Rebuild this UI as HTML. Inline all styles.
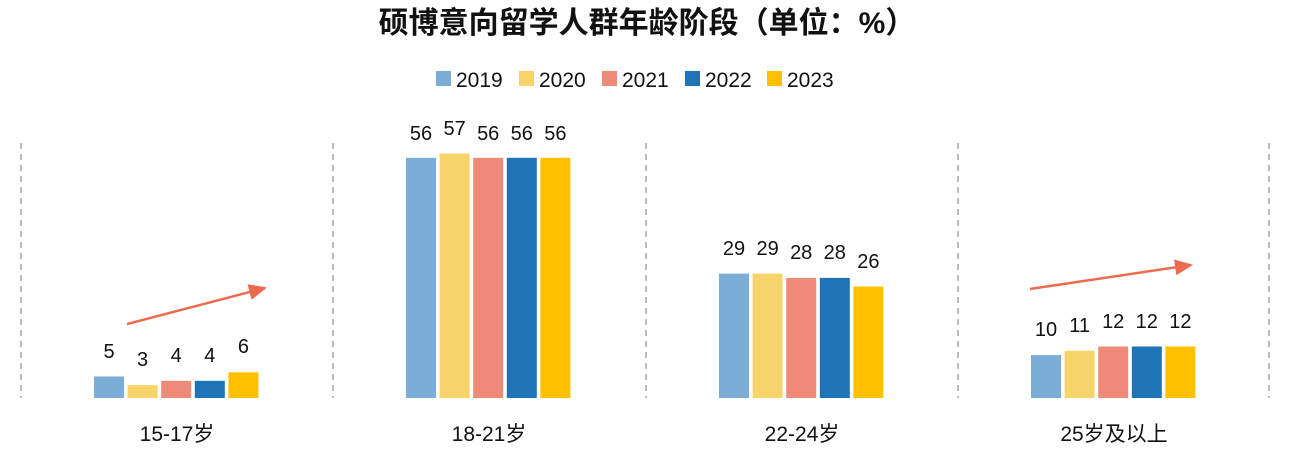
<!DOCTYPE html>
<html><head><meta charset="utf-8"><style>
body{margin:0;background:#fff;width:1291px;height:451px;overflow:hidden}
text{font-family:"Liberation Sans","Noto Sans CJK SC",sans-serif}
</style></head><body>
<svg width="1291" height="451" xmlns="http://www.w3.org/2000/svg">
<defs><marker id="ah" markerWidth="18" markerHeight="16" refX="16" refY="8" orient="auto" markerUnits="userSpaceOnUse" viewBox="0 0 18 16"><path d="M0,0 L18,8 L0,16 z" fill="#ee6a4f"/></marker></defs>
<text x="647" y="33" text-anchor="middle" font-size="30" font-weight="bold" fill="#111">硕博意向留学人群年龄阶段（单位：%）</text>
<g font-size="21" fill="#111">
<rect x="436" y="71" width="15" height="15" fill="#7aaed6"/><text x="456" y="87">2019</text>
<rect x="519" y="71" width="15" height="15" fill="#f7d46a"/><text x="539" y="87">2020</text>
<rect x="602" y="71" width="15" height="15" fill="#ef8a78"/><text x="622" y="87">2021</text>
<rect x="685" y="71" width="15" height="15" fill="#1f74b8"/><text x="705" y="87">2022</text>
<rect x="767" y="71" width="15" height="15" fill="#ffc000"/><text x="787" y="87">2023</text>
</g>
<g stroke="#bbb" stroke-width="2" stroke-dasharray="6,5">
<line x1="21" y1="143" x2="21" y2="398"/><line x1="333" y1="143" x2="333" y2="398"/><line x1="646" y1="143" x2="646" y2="398"/><line x1="958" y1="143" x2="958" y2="398"/><line x1="1269" y1="143" x2="1269" y2="398"/>
</g>
<g>
<rect x="94" y="376.5" width="30" height="21.5" fill="#7aaed6"/>
<rect x="127.6" y="385.1" width="30" height="12.9" fill="#f7d46a"/>
<rect x="161.2" y="380.8" width="30" height="17.2" fill="#ef8a78"/>
<rect x="194.8" y="380.8" width="30" height="17.2" fill="#1f74b8"/>
<rect x="228.4" y="372.3" width="30" height="25.7" fill="#ffc000"/>
<rect x="406" y="157.8" width="30" height="240.2" fill="#7aaed6"/>
<rect x="439.6" y="153.5" width="30" height="244.5" fill="#f7d46a"/>
<rect x="473.2" y="157.8" width="30" height="240.2" fill="#ef8a78"/>
<rect x="506.8" y="157.8" width="30" height="240.2" fill="#1f74b8"/>
<rect x="540.4" y="157.8" width="30" height="240.2" fill="#ffc000"/>
<rect x="719" y="273.6" width="30" height="124.4" fill="#7aaed6"/>
<rect x="752.6" y="273.6" width="30" height="124.4" fill="#f7d46a"/>
<rect x="786.2" y="277.9" width="30" height="120.1" fill="#ef8a78"/>
<rect x="819.8" y="277.9" width="30" height="120.1" fill="#1f74b8"/>
<rect x="853.4" y="286.5" width="30" height="111.5" fill="#ffc000"/>
<rect x="1031" y="355.1" width="30" height="42.9" fill="#7aaed6"/>
<rect x="1064.6" y="350.8" width="30" height="47.2" fill="#f7d46a"/>
<rect x="1098.2" y="346.5" width="30" height="51.5" fill="#ef8a78"/>
<rect x="1131.8" y="346.5" width="30" height="51.5" fill="#1f74b8"/>
<rect x="1165.4" y="346.5" width="30" height="51.5" fill="#ffc000"/>
</g>
<g font-size="20" fill="#111" text-anchor="middle">
<text x="109" y="358">5</text><text x="142.6" y="366">3</text><text x="176.2" y="362">4</text><text x="209.8" y="362">4</text><text x="243.4" y="353">6</text>
<text x="421" y="140">56</text><text x="454.6" y="135">57</text><text x="488.2" y="140">56</text><text x="521.8" y="140">56</text><text x="555.4" y="140">56</text>
<text x="734" y="255">29</text><text x="767.6" y="255">29</text><text x="801.2" y="259">28</text><text x="834.8" y="259">28</text><text x="868.4" y="268">26</text>
<text x="1046" y="336">10</text><text x="1079.6" y="332">11</text><text x="1113.2" y="328">12</text><text x="1146.8" y="328">12</text><text x="1180.4" y="328">12</text>
</g>
<g font-size="21" fill="#111" text-anchor="middle">
<text x="177" y="441">15-17岁</text><text x="489" y="441">18-21岁</text><text x="802" y="441">22-24岁</text><text x="1114" y="441">25岁及以上</text>
</g>
<line x1="127" y1="324" x2="265" y2="288" stroke="#ee6a4f" stroke-width="2.5" marker-end="url(#ah)"/>
<line x1="1030" y1="289" x2="1191" y2="265" stroke="#ee6a4f" stroke-width="2.5" marker-end="url(#ah)"/>
</svg>
</body></html>
